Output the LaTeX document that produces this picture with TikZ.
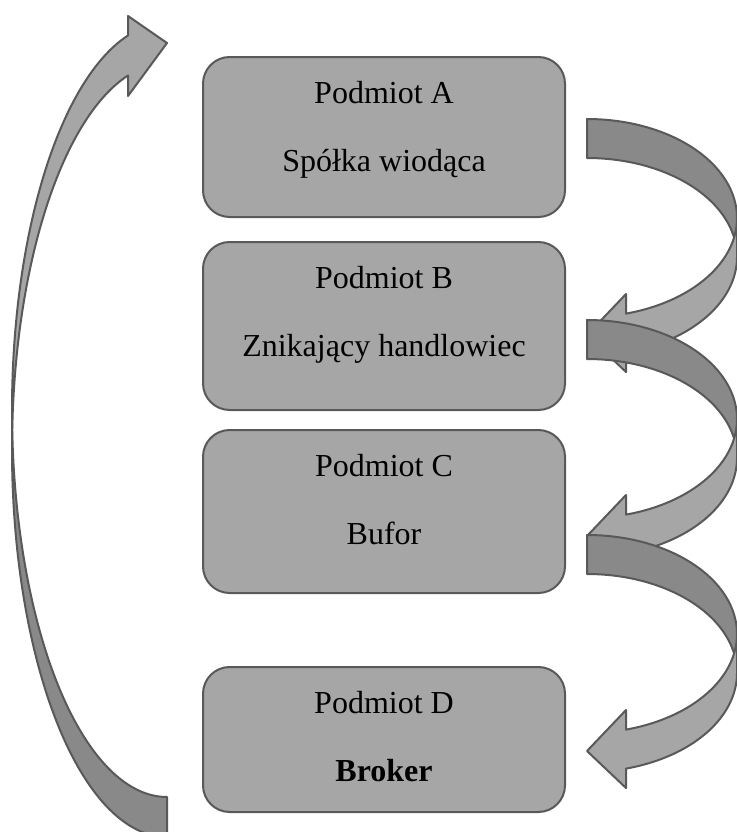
\documentclass[tikz,border=0pt]{standalone}
\usepackage{fontspec}
\setmainfont{Liberation Serif}
\usetikzlibrary{positioning}

\definecolor{boxgray}{HTML}{A6A6A6}
\definecolor{foldgray}{HTML}{898989}
\definecolor{edgegray}{HTML}{595959}

\tikzstyle{entity} = [rectangle, draw=edgegray, fill=boxgray, line width=1.5pt, rounded corners=20pt, minimum width=271.5pt, inner sep=0pt]
\tikzstyle{entitytext} = [anchor=base, inner sep=0pt, font=\fontsize{24pt}{28pt}\selectfont]
\tikzstyle{bandfront} = [draw=edgegray, fill=boxgray, line width=1.5pt, line join=round]
\tikzstyle{bandback} = [draw=edgegray, fill=foldgray, line width=1.5pt, line join=round]

\tikzset{
  pics/downturn/.style={code={
    % back side of the bend
    \path[bandback] plot[domain=-90:0, samples=60] ({150*cos(\x)},{99*sin(\x)})
      -- (150,39) -- plot[domain=0:-90, samples=60] ({150*cos(\x)},{39+99*sin(\x)}) -- cycle;
    % front side with the head
    \path[bandfront] plot[domain=0:74.93, samples=60] ({150*cos(\x)},{99*sin(\x)})
      -- (39,76) -- (0,117) -- (39,154) -- (39,134.6)
      -- plot[domain=74.93:0, samples=60] ({150*cos(\x)},{39+99*sin(\x)}) -- cycle;
  }},
  pics/upturn/.style={code={
    % back side of the bend
    \path[bandback] plot[domain=180:90, samples=80] ({155*cos(\x)},{387*sin(\x)})
      -- (0,427) -- plot[domain=90:180, samples=80] ({155*cos(\x)},{40+387*sin(\x)}) -- cycle;
    % front side with the head
    \path[bandfront] plot[domain=255.43:180, samples=80] ({155*cos(\x)},{387*sin(\x)})
      -- (-155,40) -- plot[domain=180:255.43, samples=80] ({155*cos(\x)},{40+387*sin(\x)})
      -- (-39,-314) -- (0,-367) -- (-39,-394) -- cycle;
  }}
}

\begin{document}
\begin{tikzpicture}[x=0.75pt, y=-0.75pt]
  \useasboundingbox (0,0) rectangle (737,832);
  \clip (0,0) rectangle (737,832);

  % way back from D to A
  \pic at (167,410) {upturn};

  % the four entities
  \node[entity, minimum height=120pt] (A) at (384,137) {};
  \node[entity, minimum height=126pt] (B) at (384,326) {};
  \node[entity, minimum height=122.25pt] (C) at (384,511.5) {};
  \node[entity, minimum height=108.75pt] (D) at (384,739.5) {};

  \node[entitytext] (A1) at ([yshift=-35.25pt]A.north) {Podmiot A};
  \node[entitytext] (A2) at ([yshift=-86.25pt]A.north) {Spółka wiodąca};
  \node[entitytext] (B1) at ([yshift=-35.25pt]B.north) {Podmiot B};
  \node[entitytext] (B2) at ([yshift=-86.25pt]B.north) {Znikający handlowiec};
  \node[entitytext] (C1) at ([yshift=-35.25pt]C.north) {Podmiot C};
  \node[entitytext] (C2) at ([yshift=-86.25pt]C.north) {Bufor};
  \node[entitytext] (D1) at ([yshift=-35.25pt]D.north) {Podmiot D};
  \node[entitytext] (D2) at ([yshift=-86.25pt]D.north) {\textbf{Broker}};

  % bends on the right, each over the head of the one before
  \pic at (587,218) {downturn};
  \pic at (587,419) {downturn};
  \pic at (587,634) {downturn};
\end{tikzpicture}
\end{document}
